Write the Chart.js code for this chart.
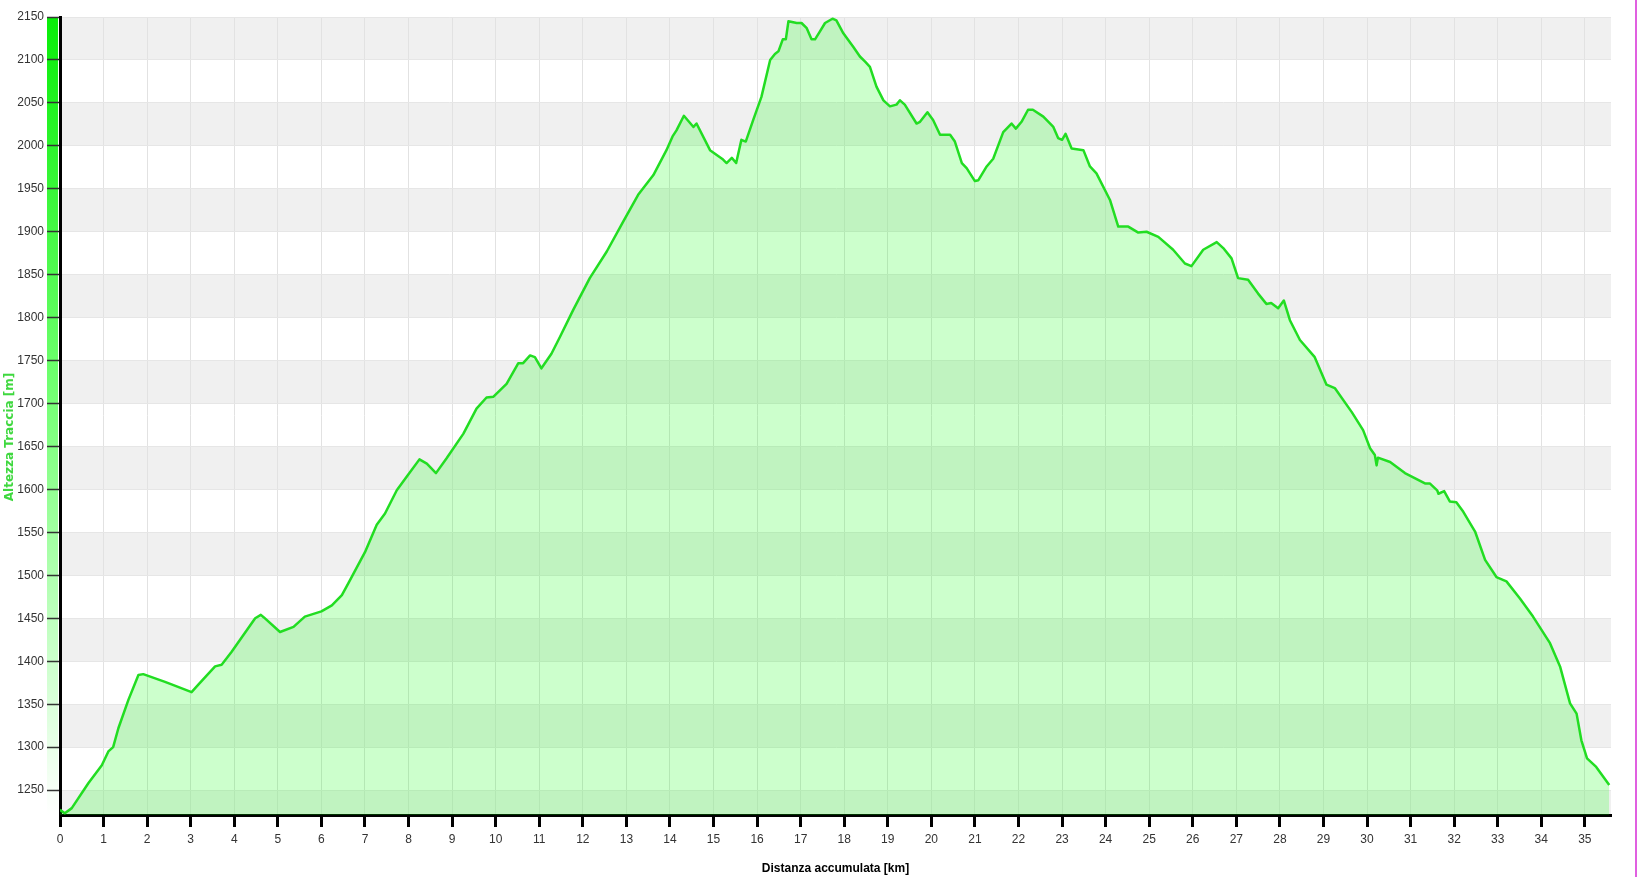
<!DOCTYPE html>
<html>
<head>
<meta charset="utf-8">
<title>Altezza Traccia</title>
<script src="https://cdn.jsdelivr.net/npm/chart.js@4.4.1/dist/chart.umd.min.js"></script>
<style>
  html, body { margin: 0; padding: 0; background: #fff; }
  #wrap { position: relative; width: 1638px; height: 877px; }
  #edge { position: absolute; left: 1635px; top: 0; width: 2px; height: 877px; background: #e060e0; }
</style>
</head>
<body>
<div id="wrap">
  <canvas id="profile" width="1638" height="877"></canvas>
  <div id="edge"></div>
</div>
<script>
// distance along the track (km) and altitude (m)
const distKm = [
  0.00, 0.11, 0.27, 0.65, 0.96, 1.11, 1.22, 1.34, 1.57, 1.80, 1.91, 2.41, 2.56, 3.02, 3.18, 3.56,
  3.71, 3.94, 4.48, 4.61, 4.68, 5.05, 5.36, 5.62, 6.00, 6.24, 6.47, 6.62, 7.00, 7.27, 7.46, 7.73,
  7.99, 8.25, 8.42, 8.63, 8.87, 9.26, 9.56, 9.79, 9.95, 10.25, 10.52, 10.63, 10.79, 10.90, 11.05, 11.28,
  11.48, 11.78, 12.16, 12.55, 12.93, 13.27, 13.62, 13.92, 14.06, 14.15, 14.32, 14.54, 14.61, 14.92, 15.22, 15.30,
  15.42, 15.52, 15.64, 15.74, 15.91, 16.10, 16.30, 16.41, 16.49, 16.59, 16.66, 16.72, 16.91, 17.02, 17.14, 17.25,
  17.33, 17.44, 17.56, 17.73, 17.82, 17.98, 18.21, 18.36, 18.48, 18.59, 18.74, 18.90, 19.05, 19.20, 19.28, 19.39,
  19.66, 19.74, 19.91, 20.04, 20.20, 20.43, 20.54, 20.70, 20.81, 21.00, 21.08, 21.27, 21.42, 21.65, 21.84, 21.94,
  22.07, 22.22, 22.33, 22.57, 22.80, 22.91, 23.00, 23.08, 23.22, 23.49, 23.64, 23.79, 24.10, 24.29, 24.52, 24.75,
  24.94, 25.21, 25.55, 25.82, 25.97, 26.24, 26.55, 26.70, 26.89, 27.04, 27.27, 27.50, 27.69, 27.80, 27.96, 28.09,
  28.23, 28.46, 28.80, 29.07, 29.26, 29.65, 29.91, 30.07, 30.18, 30.22, 30.25, 30.53, 30.87, 31.33, 31.44, 31.61,
  31.64, 31.77, 31.90, 32.05, 32.21, 32.48, 32.71, 32.97, 33.20, 33.51, 33.81, 34.20, 34.43, 34.66, 34.81, 34.92,
  35.05, 35.26, 35.56
];
const altitude = [
  1227, 1223, 1229, 1258, 1279, 1295, 1300, 1322, 1355, 1384, 1385, 1376, 1373, 1364, 1373, 1394,
  1396, 1411, 1450, 1454, 1451, 1434, 1440, 1452, 1458, 1465, 1477, 1491, 1527, 1559, 1572, 1599,
  1617, 1635, 1630, 1619, 1636, 1665, 1694, 1707, 1708, 1723, 1747, 1747, 1756, 1754, 1741, 1758,
  1778, 1809, 1846, 1877, 1912, 1943, 1966, 1995, 2011, 2018, 2035, 2022, 2026, 1995, 1984, 1980,
  1986, 1980, 2007, 2005, 2030, 2057, 2100, 2107, 2110, 2124, 2124, 2145, 2143, 2143, 2137, 2124,
  2124, 2133, 2143, 2148, 2146, 2131, 2115, 2104, 2098, 2092, 2069, 2053, 2046, 2048, 2053, 2048,
  2026, 2028, 2039, 2030, 2013, 2013, 2005, 1980, 1974, 1959, 1960, 1976, 1985, 2016, 2026, 2020,
  2028, 2042, 2042, 2034, 2022, 2009, 2007, 2014, 1997, 1995, 1976, 1968, 1937, 1906, 1906, 1899,
  1900, 1894, 1879, 1863, 1860, 1879, 1888, 1881, 1869, 1846, 1844, 1828, 1816, 1817, 1811, 1820,
  1797, 1774, 1754, 1722, 1718, 1690, 1669, 1648, 1640, 1628, 1637, 1632, 1619, 1607, 1607, 1599,
  1595, 1598, 1586, 1585, 1574, 1551, 1518, 1498, 1493, 1473, 1452, 1421, 1394, 1351, 1339, 1308,
  1287, 1277, 1256
];

const xMin = 0, xMax = 35.6, xStep = 1;
const yMin = 1221, yMax = 2150, yStep = 50;
const xTitle = 'Distanza accumulata [km]';
const yTitle = 'Altezza Traccia [m]';

const points = distKm.map((d, i) => ({ x: d, y: altitude[i] }));

// alternating grey bands between the altitude ticks + green strip left of the axis
const bandsPlugin = {
  id: 'bands',
  beforeDraw(chart) {
    const { ctx, chartArea: a, scales: { y } } = chart;
    ctx.save();
    let idx = 0;
    for (let top = yMax; top > yMin; top -= yStep, idx++) {
      if (idx % 2) continue;
      const bot = Math.max(top - yStep, yMin);
      const y1 = y.getPixelForValue(top), y2 = y.getPixelForValue(bot);
      ctx.fillStyle = '#f0f0f0';
      ctx.fillRect(a.left, y1, a.right - a.left, y2 - y1);
    }
    const g = ctx.createLinearGradient(0, a.top, 0, a.bottom);
    g.addColorStop(0, 'rgb(8,238,8)');
    g.addColorStop(0.45, 'rgb(110,255,110)');
    g.addColorStop(1, 'rgb(255,255,255)');
    ctx.fillStyle = g;
    ctx.fillRect(a.left - 13, a.top, 11, a.bottom - a.top);
    ctx.restore();
  },
  afterDraw(chart) {
    const { ctx, chartArea: a } = chart;
    ctx.save();
    ctx.translate(a.left - 50, (a.top + a.bottom) / 2 + 21);
    ctx.rotate(-Math.PI / 2);
    ctx.textAlign = 'center';
    ctx.textBaseline = 'middle';
    ctx.fillStyle = '#3fd83f';
    ctx.font = 'bold 12px "DejaVu Sans", Verdana, sans-serif';
    ctx.fillText(yTitle, 0, 0);
    ctx.restore();
  }
};

Chart.defaults.font.family = '"Liberation Sans", Arial, sans-serif';
Chart.defaults.font.size = 12;
Chart.defaults.color = '#333';

new Chart(document.getElementById('profile'), {
  type: 'line',
  data: {
    datasets: [{
      data: points,
      borderColor: '#22dd22',
      borderWidth: 2.5,
      backgroundColor: 'rgba(0,255,0,0.2)',
      fill: 'start',
      tension: 0,
      pointRadius: 0,
      borderJoinStyle: 'round'
    }]
  },
  options: {
    responsive: false,
    animation: false,
    events: [],
    layout: { padding: { top: 17, right: 27, left: 0, bottom: 0 } },
    plugins: { legend: { display: false }, tooltip: { enabled: false } },
    scales: {
      x: {
        type: 'linear',
        min: xMin, max: xMax,
        afterFit(s) { s.height = 62; },
        ticks: { stepSize: xStep, includeBounds: false, autoSkip: false, maxRotation: 0, padding: 5, color: '#333' },
        grid: { color: '#e2e2e2', lineWidth: 1, tickColor: '#000', tickWidth: 3, tickLength: 12 },
        border: { color: '#000', width: 3 },
        title: { display: true, text: xTitle, color: '#000', font: { weight: 'bold', size: 12 }, padding: { top: 4, bottom: 1 } }
      },
      y: {
        min: yMin, max: yMax,
        afterFit(s) { s.width = 60; },
        ticks: { stepSize: yStep, includeBounds: false, padding: 3, color: '#333', callback: v => String(v) },
        grid: { color: '#e6e6e6', lineWidth: 1, tickColor: '#333', tickWidth: 1.5, tickLength: 13 },
        border: { color: '#000', width: 3 }
      }
    }
  },
  plugins: [bandsPlugin]
});
</script>
</body>
</html>
